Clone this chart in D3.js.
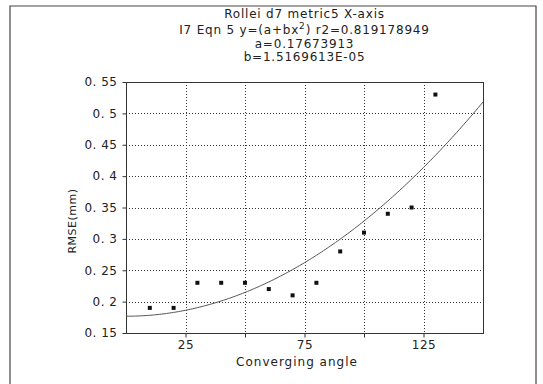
<!DOCTYPE html>
<html>
<head>
<meta charset="utf-8">
<script src="https://cdn.jsdelivr.net/npm/d3@7/dist/d3.min.js"></script>
<style>
  html, body { margin: 0; padding: 0; background: #fff; }
  svg text { font-family: "DejaVu Sans", sans-serif; fill: #222; }
</style>
</head>
<body>
<svg id="chart" width="543" height="384"></svg>
<script>
// Converging angle vs RMSE, with the fitted curve y = a + b*x^2
const angles = [10, 20, 30, 40, 50, 60, 70, 80, 90, 100, 110, 120, 130];
const rmse   = [0.19, 0.19, 0.23, 0.23, 0.23, 0.22, 0.21, 0.23, 0.28, 0.31, 0.34, 0.35, 0.53];
const fitA = 0.17673913;
const fitB = 1.5169613e-05;
const xTicks = [25, 75, 125];
const xGrid = [25, 50, 75, 100, 125];
const yTicks = [0.15, 0.2, 0.25, 0.3, 0.35, 0.4, 0.45, 0.5, 0.55];
const titleLines = ["Rollei d7 metric5 X-axis", "a=0.17673913", "b=1.5169613E-05"];

const svg = d3.select("#chart");
const plot = { left: 126, right: 483, top: 82, bottom: 333 };

const x = d3.scaleLinear().domain([0, 150]).range([plot.left, plot.right]);
const y = d3.scaleLinear().domain([0.15, 0.55]).range([plot.bottom, plot.top]);

// outer frame
svg.append("path")
  .attr("d", "M10,384 V6 H536 V384")
  .attr("fill", "none").attr("stroke", "#444").attr("stroke-width", 1.2);

// dotted grid
const grid = svg.append("g").attr("stroke", "#333").attr("stroke-width", 1)
  .attr("stroke-dasharray", "1,2");
grid.selectAll("line.h").data(yTicks.slice(1, -1)).join("line")
  .attr("x1", plot.left).attr("x2", plot.right)
  .attr("y1", d => Math.round(y(d)) + 0.5).attr("y2", d => Math.round(y(d)) + 0.5);
grid.selectAll("line.v").data(xGrid).join("line")
  .attr("y1", plot.top).attr("y2", plot.bottom)
  .attr("x1", d => Math.round(x(d)) + 0.5).attr("x2", d => Math.round(x(d)) + 0.5);

// axes
const yAxis = svg.append("g")
  .attr("transform", `translate(${plot.left + 0.5},0)`)
  .call(d3.axisLeft(y).tickValues(yTicks).tickSize(4).tickPadding(5)
    .tickFormat(d => d3.format(".2~f")(d).replace(".", ". ")));
const xAxis = svg.append("g")
  .attr("transform", `translate(0,${plot.bottom + 0.5})`)
  .call(d3.axisBottom(x).tickValues(xGrid).tickSize(4).tickPadding(3)
    .tickFormat(d => xTicks.includes(d) ? d : ""));
[yAxis, xAxis].forEach(g => {
  g.select(".domain").remove();
  g.selectAll("line").attr("stroke", "#333");
  g.selectAll("text").attr("font-size", 12).attr("letter-spacing", 0.5)
    .style("font-family", "DejaVu Sans, sans-serif").attr("fill", "#222");
});

// plot frame
svg.append("rect")
  .attr("x", plot.left + 0.5).attr("y", plot.top + 0.5)
  .attr("width", plot.right - plot.left).attr("height", plot.bottom - plot.top)
  .attr("fill", "none").attr("stroke", "#333").attr("stroke-width", 1);

// fitted curve
const curveX = d3.range(0, 150.5, 1);
svg.append("path")
  .datum(curveX)
  .attr("fill", "none").attr("stroke", "#555").attr("stroke-width", 1)
  .attr("d", d3.line().x(d => x(d)).y(d => y(fitA + fitB * d * d)));

// data points
svg.selectAll("rect.pt").data(angles).join("rect")
  .attr("class", "pt")
  .attr("x", (d) => x(d) - 2).attr("y", (d, i) => y(rmse[i]) - 2)
  .attr("width", 4).attr("height", 4).attr("fill", "#111");

// titles
const cx = (plot.left + plot.right) / 2;
svg.append("text").attr("x", cx).attr("y", 18).attr("text-anchor", "middle")
  .attr("font-size", 12).attr("letter-spacing", 0.8).text(titleLines[0]);
const eq = svg.append("text").attr("x", cx).attr("y", 34).attr("text-anchor", "middle")
  .attr("font-size", 12).attr("letter-spacing", 0.8);
eq.append("tspan").text("I7 Eqn 5 y=(a+bx");
eq.append("tspan").attr("dy", -5).attr("font-size", 9).text("2");
eq.append("tspan").attr("dy", 5).text(") r2=0.819178949");
svg.append("text").attr("x", cx).attr("y", 48).attr("text-anchor", "middle")
  .attr("font-size", 12).attr("letter-spacing", 0.8).text(titleLines[1]);
svg.append("text").attr("x", cx).attr("y", 61).attr("text-anchor", "middle")
  .attr("font-size", 12).attr("letter-spacing", 0.8).text(titleLines[2]);

// axis titles
svg.append("text").attr("x", 297).attr("y", 366).attr("text-anchor", "middle")
  .attr("font-size", 12).attr("letter-spacing", 1).text("Converging angle");
svg.append("text")
  .attr("transform", "translate(76,221) rotate(-90)")
  .attr("text-anchor", "middle").attr("font-size", 11).attr("letter-spacing", 0.5)
  .text("RMSE(mm)");
</script>
</body>
</html>
